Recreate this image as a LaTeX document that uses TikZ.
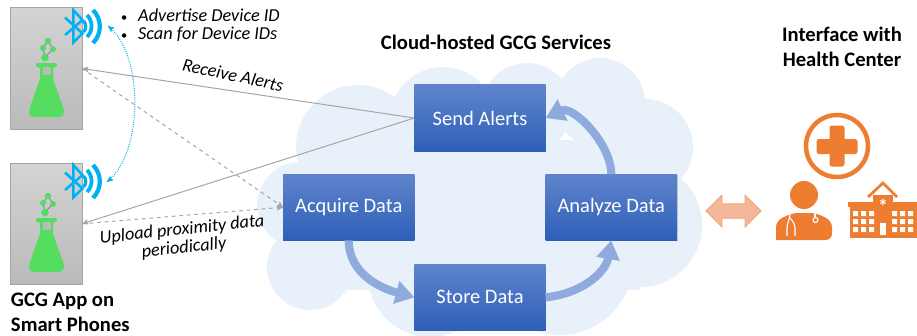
\documentclass[tikz,border=0pt]{standalone}
\usepackage{fontspec}
\setmainfont{Carlito}
\usetikzlibrary{arrows,arrows.meta,positioning,shadows,shapes.arrows}

\definecolor{cloudfill}{HTML}{E8F1F9}
\definecolor{boxtop}{HTML}{5F84CC}
\definecolor{boxbot}{HTML}{2E5FB8}
\definecolor{flowblue}{HTML}{8FAADC}
\definecolor{btblue}{HTML}{00B0F0}
\definecolor{flaskgreen}{HTML}{55DD5F}
\definecolor{linkgray}{HTML}{A6A6A6}
\definecolor{healthorange}{HTML}{ED7D31}
\definecolor{arrowpeach}{HTML}{F4B79A}

\tikzset{
service/.style={rectangle, top color=boxtop, bottom color=boxbot, minimum width=105pt, minimum height=53pt,
  text=white, font=\fontsize{16.4}{18}\selectfont, drop shadow={shadow xshift=0.6pt, shadow yshift=-0.8pt, opacity=0.4}},
phone/.style={rectangle, draw=linkgray, line width=0.8pt, top color=black!17, bottom color=black!27,
  minimum width=57pt, minimum height=97pt},
title/.style={font=\fontsize{16.5}{20}\selectfont\bfseries, align=center},
note/.style={font=\fontsize{14.6}{14.5}\selectfont\itshape, align=center},
flow/.style={draw=flowblue, line width=6.5pt, -{Triangle[width=18pt, length=15pt]}},
link/.style={draw=linkgray, line width=0.8pt, ->, >=stealth'},
linkdash/.style={draw=linkgray, line width=0.8pt, dashed, ->, >=stealth'},
flaskicon/.pic={
  \fill[flaskgreen, rounded corners=1pt] (36,63) -- (57,63) -- (57,67) -- (53,67) -- (53,79) -- (64,110)
    [rounded corners=4pt] -- (64,117) -- (29,117) -- (29,110) [rounded corners=1pt] -- (40,79) -- (40,67) -- (36,67) -- cycle;
  \fill[black!27] (43,67) rectangle (51,75);
  \draw[blue!30!gray!80!white, line width=0.7pt] (48,41) -- (53,49) -- (45,57) -- (43,48) -- cycle;
  \fill[flaskgreen] (48,41) circle (3.2);
  \fill[flaskgreen] (43,48) circle (3);
  \fill[flaskgreen] (53,49) circle (3);
  \fill[flaskgreen] (45,57.5) circle (3.8);
},
btwaves/.pic={
  \draw[btblue, line width=2pt, line join=miter] (65,17.5) -- (82.5,33.5) -- (73.3,42.5) -- (73.3,10) -- (82.5,20) -- (65,35);
  \draw[btblue, line width=2.6pt] (83.5,21) to[bend left=45] (83.5,32);
  \draw[btblue, line width=3pt] (87,15) to[bend left=45] (87,37);
  \draw[btblue, line width=3.4pt] (93,10) to[bend left=45] (93,43);
}
}

\begin{document}
\begin{tikzpicture}[y=-0.80pt, x=0.80pt, inner sep=0pt, outer sep=0pt]
\useasboundingbox (0,0) rectangle (917,335);

% cloud
\begin{scope}
\clip (0,0) rectangle (917,335);
\fill[cloudfill] (358,147) circle (62) (300,205) circle (43) (310,267) circle (43)
  (430,275) circle (62) (560,262) circle (73) (640,225) circle (62) (645,147) circle (48)
  (600,103) circle (45) (527,108) circle (45) (443,120) circle (53);
\fill[cloudfill] (340,140) rectangle (640,290);
\end{scope}

% services
\node[service](send) at (480,118) {Send Alerts};
\node[service](acquire)[below left = 18.4pt and 0pt of send] {Acquire Data};
\node[service](analyze)[below right = 18.4pt and 0pt of send] {Analyze Data};
\node[service](store)[below = 90.4pt of send] {Store Data};

\draw[flow] (acquire.south) to[out=-90, in=165] (store.west);
\draw[flow] (store.east) to[out=5, in=-100] (analyze.south);
\draw[flow] (analyze.north) to[out=90, in=25, looseness=0.9] (send.east);

% phones
\node[phone](phoneA) at (46.5,68.5) {};
\node[phone](phoneB)[below = 27.2pt of phoneA] {};
\pic at (0,0) {flaskicon};
\pic at (0,155) {flaskicon};
\pic at (0,0) {btwaves};
\pic at (0,155) {btwaves};
\coordinate (bleA) at (108,26);
\coordinate (bleB) at (107,182);
\draw[btblue, line width=0.8pt, densely dotted, <->, >=stealth'] (bleA) to[out=-40, in=40, looseness=0.77] (bleB);

% links
\draw[link] (send.west) -- (phoneA.east);
\draw[link] (send.west) -- (phoneB.east);
\draw[linkdash] (phoneA.east) -- (acquire.west);
\draw[linkdash] (phoneB.east) -- (acquire.west);

% labels
\node[note, rotate=-12](receive) at (233,75) {Receive Alerts};
\node[note, rotate=6](upload) at (183,239) {Upload proximity data\\periodically};
\node[note, align=left, anchor=west](scan) at (121,25.5) {{\upshape\fontsize{10}{10}\selectfont\textbullet}\hspace{8.8pt}Advertise Device ID\\{\upshape\fontsize{10}{10}\selectfont\textbullet}\hspace{8.8pt}Scan for Device IDs};
\node[title](cloudtitle) at (496,42) {Cloud-hosted GCG Services};
\node[title](healthtitle) at (842,47) {Interface with\\Health Center};
\node[title, align=left, anchor=west](apptitle) at (11,312) {GCG App on\\Smart Phones};

% health center
\node[double arrow, fill=arrowpeach, draw=healthorange!70!white, line width=0.6pt, minimum height=44pt, minimum width=25pt,
  double arrow head extend=7pt, inner xsep=0pt, inner ysep=5.5pt](bridge) at (733.5,211) {};
\draw[healthorange, line width=3.6pt] (837,146) circle (31);
\fill[healthorange, rounded corners=2pt] (829.5,125.5) rectangle (844.5,166.5);
\fill[healthorange, rounded corners=2pt] (816.5,139) rectangle (857.5,154);
\fill[healthorange] (804,195) circle (14);
\fill[healthorange, rounded corners=5pt] (776,240) -- (776,221) -- (792,213) -- (816,213) -- (832,221) -- (832,240) [sharp corners] -- cycle;
\draw[white, line width=0.9pt, rounded corners=3pt] (790,213) -- (790,218) -- (787,224) -- (787,236) (790,218) -- (795,224) -- (795,236);
\draw[white, line width=0.9pt] (815,213) -- (815,217);
\draw[white, line width=0.9pt] (815.5,220) circle (2.5);
% hospital
\fill[healthorange] (848,202) rectangle (917,207);
\fill[healthorange] (850,207) rectangle (917,238);
\fill[healthorange] (873,195) rectangle (893,207);
\draw[healthorange, line width=2.2pt] (868,197) -- (883,183) -- (897,197);
\node[text=white, font=\bfseries\fontsize{16}{16}\selectfont](cross) at (883,206) {*};
\fill[white] (853,211) rectangle (858,216) (861,211) rectangle (866,216) (869,211) rectangle (874,216)
  (892,211) rectangle (897,216) (900,211) rectangle (905,216) (908,211) rectangle (913,216);
\fill[white] (853,219) rectangle (858,224) (861,219) rectangle (866,224) (869,219) rectangle (874,224)
  (892,219) rectangle (897,224) (900,219) rectangle (905,224) (908,219) rectangle (913,224);
\fill[white] (853,227) rectangle (858,232) (861,227) rectangle (866,232) (869,227) rectangle (874,232)
  (892,227) rectangle (897,232) (900,227) rectangle (905,232) (908,227) rectangle (913,232);
\fill[white] (880,223) rectangle (886,235);
\end{tikzpicture}
\end{document}
